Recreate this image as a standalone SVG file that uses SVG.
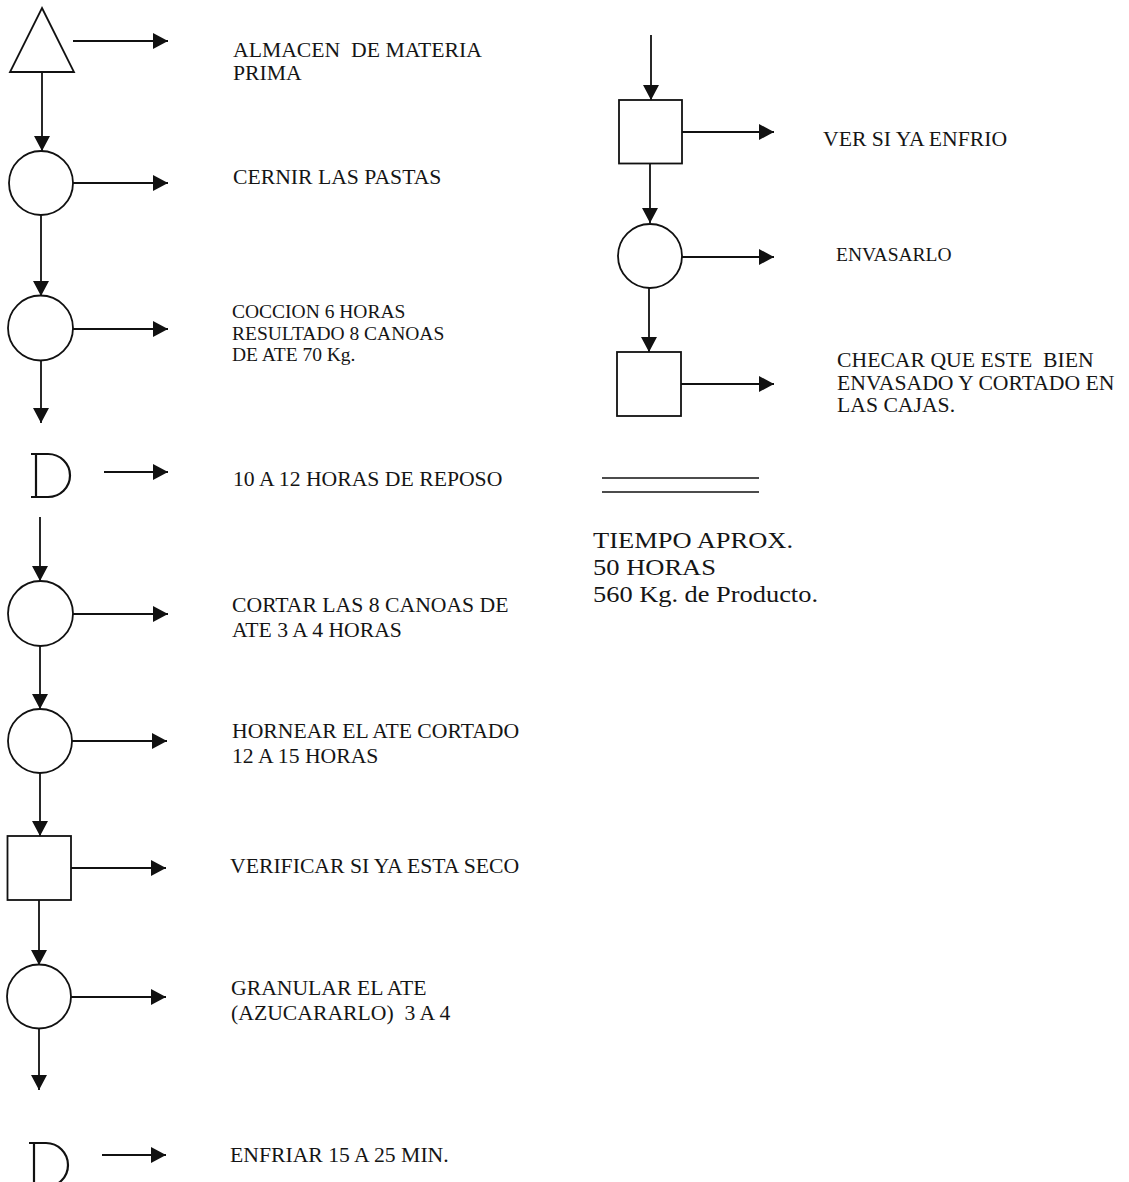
<svg xmlns="http://www.w3.org/2000/svg" width="1129" height="1182" viewBox="0 0 1129 1182">
<defs>
<marker id="ah" markerUnits="userSpaceOnUse" markerWidth="16" markerHeight="16" refX="15" refY="8" orient="auto">
<path d="M0,0 L15,8 L0,16 z" fill="#111"/>
</marker>
<style>
.shape{fill:#fff;stroke:#111;stroke-width:1.8}
.dly{fill:none;stroke:#111;stroke-width:2.2}
.ln{stroke:#111;stroke-width:1.8;fill:none;marker-end:url(#ah)}
.plain{stroke:#111;stroke-width:1.6;fill:none}
text{font-family:"Liberation Serif","Times New Roman",serif;fill:#151515;white-space:pre}
.t{font-size:21.7px}
.s{font-size:19.5px}
.b{font-size:24px}
</style>
</defs>
<rect width="1129" height="1182" fill="#fff"/>

<g id="connectors">
<line class="ln" x1="73" y1="41" x2="168" y2="41"/>
<line class="ln" x1="42" y1="72" x2="42" y2="151"/>
<line class="ln" x1="73" y1="183" x2="168" y2="183"/>
<line class="ln" x1="41" y1="215" x2="41" y2="296"/>
<line class="ln" x1="73" y1="329" x2="168" y2="329"/>
<line class="ln" x1="41" y1="360" x2="41" y2="423"/>
<line class="ln" x1="104" y1="472" x2="168" y2="472"/>
<line class="ln" x1="40" y1="517" x2="40" y2="581"/>
<line class="ln" x1="73" y1="614" x2="168" y2="614"/>
<line class="ln" x1="40" y1="646" x2="40" y2="709"/>
<line class="ln" x1="72" y1="741" x2="167" y2="741"/>
<line class="ln" x1="40" y1="773" x2="40" y2="836"/>
<line class="ln" x1="71" y1="868" x2="166" y2="868"/>
<line class="ln" x1="39" y1="900" x2="39" y2="965"/>
<line class="ln" x1="71" y1="997" x2="166" y2="997"/>
<line class="ln" x1="39" y1="1028" x2="39" y2="1090"/>
<line class="ln" x1="102" y1="1155" x2="166" y2="1155"/>
<line class="ln" x1="651" y1="35" x2="651" y2="100"/>
<line class="ln" x1="682" y1="132" x2="774" y2="132"/>
<line class="ln" x1="650" y1="164" x2="650" y2="223"/>
<line class="ln" x1="682" y1="257" x2="774" y2="257"/>
<line class="ln" x1="649" y1="288" x2="649" y2="352"/>
<line class="ln" x1="681" y1="384" x2="774" y2="384"/>
</g>

<g id="n1"><polygon class="shape" points="42,8 74,72 10,72"/><text class="t" x="233" y="57">ALMACEN  DE MATERIA</text><text class="t" x="233" y="80">PRIMA</text></g>
<g id="n2"><circle class="shape" cx="41" cy="183" r="32"/><text class="t" x="233" y="184">CERNIR LAS PASTAS</text></g>
<g id="n3"><circle class="shape" cx="40.5" cy="328" r="32.5"/><text class="s" x="232" y="318">COCCION 6 HORAS</text><text class="s" x="232" y="340">RESULTADO 8 CANOAS</text><text class="s" x="232" y="361">DE ATE 70 Kg.</text></g>
<g id="n4"><path class="dly" d="M31,454 H48 A22,21.5 0 0 1 48,497 H31 M36,454 V497"/><text class="t" x="233" y="486">10 A 12 HORAS DE REPOSO</text></g>
<g id="n5"><circle class="shape" cx="40.5" cy="613.5" r="32.5"/><text class="t" x="232" y="612">CORTAR LAS 8 CANOAS DE</text><text class="t" x="232" y="637">ATE 3 A 4 HORAS</text></g>
<g id="n6"><circle class="shape" cx="40" cy="741" r="32"/><text class="t" x="232" y="738">HORNEAR EL ATE CORTADO</text><text class="t" x="232" y="763">12 A 15 HORAS</text></g>
<g id="n7"><rect class="shape" x="7.5" y="836" width="63.5" height="64"/><text class="t" x="230" y="873">VERIFICAR SI YA ESTA SECO</text></g>
<g id="n8"><circle class="shape" cx="39" cy="996.5" r="32"/><text class="t" x="231" y="995">GRANULAR EL ATE</text><text class="t" x="231" y="1020">(AZUCARARLO)  3 A 4</text></g>
<g id="n9"><path class="dly" d="M29,1143 H46 A22,22 0 0 1 46,1187 H29 M34,1143 V1187"/><text class="t" x="230" y="1162">ENFRIAR 15 A 25 MIN.</text></g>

<g id="n10"><rect class="shape" x="619" y="100" width="63" height="63.5"/><text class="t" x="823" y="146">VER SI YA ENFRIO</text></g>
<g id="n11"><circle class="shape" cx="650" cy="256" r="32"/><text class="s" x="836" y="261">ENVASARLO</text></g>
<g id="n12"><rect class="shape" x="617" y="352" width="64" height="64"/><text class="t" x="837" y="367">CHECAR QUE ESTE  BIEN</text><text class="t" x="837" y="390">ENVASADO Y CORTADO EN</text><text class="t" x="837" y="412">LAS CAJAS.</text></g>

<g id="total">
<line class="plain" x1="602" y1="478" x2="759" y2="478"/>
<line class="plain" x1="602" y1="492" x2="759" y2="492"/>
<text class="b" x="593" y="548" textLength="200" lengthAdjust="spacingAndGlyphs">TIEMPO APROX.</text>
<text class="b" x="593" y="575" textLength="123" lengthAdjust="spacingAndGlyphs">50 HORAS</text>
<text class="b" x="593" y="602" textLength="225" lengthAdjust="spacingAndGlyphs">560 Kg. de Producto.</text>
</g>
</svg>
